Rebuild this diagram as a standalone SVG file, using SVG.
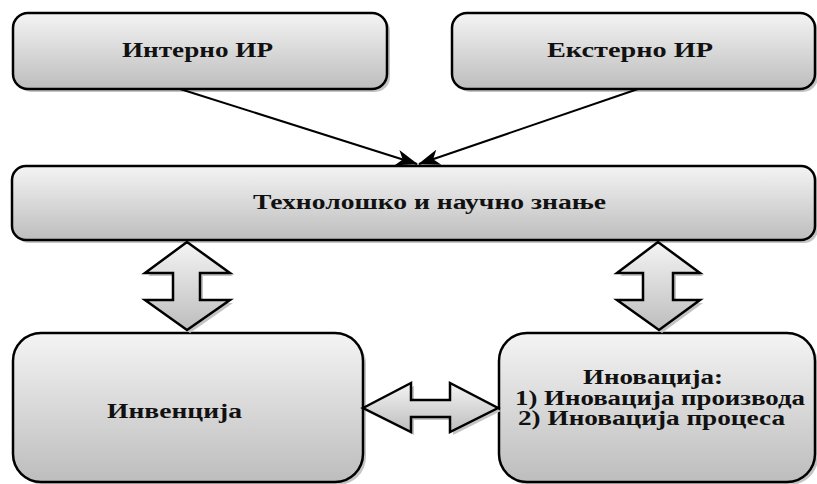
<svg xmlns="http://www.w3.org/2000/svg" width="817" height="484" viewBox="0 0 817 484">
<style>
.box{fill:url(#g);stroke:#000;stroke-width:2.5}
.sh{fill:#c4c4c4}
.t{font-family:"Liberation Serif","Times New Roman",serif;font-weight:bold;font-size:20px;fill:#111}
.con{stroke:#000;stroke-width:2;fill:none;marker-end:url(#ah)}
.dbl{fill:url(#g);stroke:#000;stroke-width:2.5;stroke-linejoin:miter}
</style>
<defs>
<linearGradient id="g" x1="0" y1="0" x2="0" y2="1">
<stop offset="0" stop-color="#f4f4f4"/>
<stop offset="1" stop-color="#bdbdbd"/>
</linearGradient>
<marker id="ah" viewBox="0 0 22 16" refX="21" refY="8" markerWidth="22" markerHeight="16" markerUnits="userSpaceOnUse" orient="auto">
<path d="M0,0 L22,8 L0,16 L6,8 Z" fill="#000"/>
</marker>
</defs>
<rect width="817" height="484" fill="#fff"/>
<g id="n1">
<rect class="sh" x="16" y="16" width="374" height="76" rx="15"/>
<rect class="box" x="13" y="13" width="374" height="76" rx="15"/>
<text class="t" x="122" y="57" textLength="151" lengthAdjust="spacingAndGlyphs">Интерно ИР</text>
</g>
<g id="n2">
<rect class="sh" x="455" y="16" width="363" height="76" rx="15"/>
<rect class="box" x="452" y="13" width="363" height="76" rx="15"/>
<text class="t" x="547" y="57" textLength="166" lengthAdjust="spacingAndGlyphs">Екстерно ИР</text>
</g>
<g id="n3">
<rect class="sh" x="15" y="169" width="803" height="74" rx="14"/>
<rect class="box" x="12" y="166" width="803" height="74" rx="14"/>
<text class="t" x="253" y="209" textLength="353" lengthAdjust="spacingAndGlyphs">Технолошко и научно знање</text>
</g>
<g id="n4">
<rect class="sh" x="16" y="336" width="350" height="149" rx="28"/>
<rect class="box" x="13" y="333" width="350" height="149" rx="28"/>
<text class="t" x="107" y="418" textLength="135" lengthAdjust="spacingAndGlyphs">Инвенција</text>
</g>
<g id="n5">
<rect class="sh" x="502" y="336" width="316" height="149" rx="28"/>
<rect class="box" x="499" y="333" width="316" height="149" rx="28"/>
<text class="t" x="583" y="384" textLength="140" lengthAdjust="spacingAndGlyphs">Иновација:</text>
<text class="t" x="515" y="405" textLength="290" lengthAdjust="spacingAndGlyphs">1) Иновација производа</text>
<text class="t" x="518" y="425" textLength="267" lengthAdjust="spacingAndGlyphs">2) Иновација процеса</text>
</g>
<g id="connectors">
<line class="con" x1="180" y1="89" x2="417" y2="164"/>
<line class="con" x1="638" y1="89" x2="419" y2="164"/>
<polygon class="sh" points="190,245 148,276 176,276 176,303 148,303 190,333 233,303 203,303 203,276 233,276"/>
<polygon class="dbl" points="187,242 145,273 173,273 173,300 145,300 187,330 230,300 200,300 200,273 230,273"/>
<polygon class="sh" points="661,245 620,276 646,276 646,303 620,303 662,333 703,303 676,303 676,276 703,276"/>
<polygon class="dbl" points="658,242 617,273 643,273 643,300 617,300 659,330 700,300 673,300 673,273 700,273"/>
<polygon class="sh" points="366,411 414,386 414,403 453,403 453,386 501,411 453,435 453,420 414,420 414,435"/>
<polygon class="dbl" points="363,408 411,383 411,400 450,400 450,383 498,408 450,432 450,417 411,417 411,432"/>
</g>
</svg>
